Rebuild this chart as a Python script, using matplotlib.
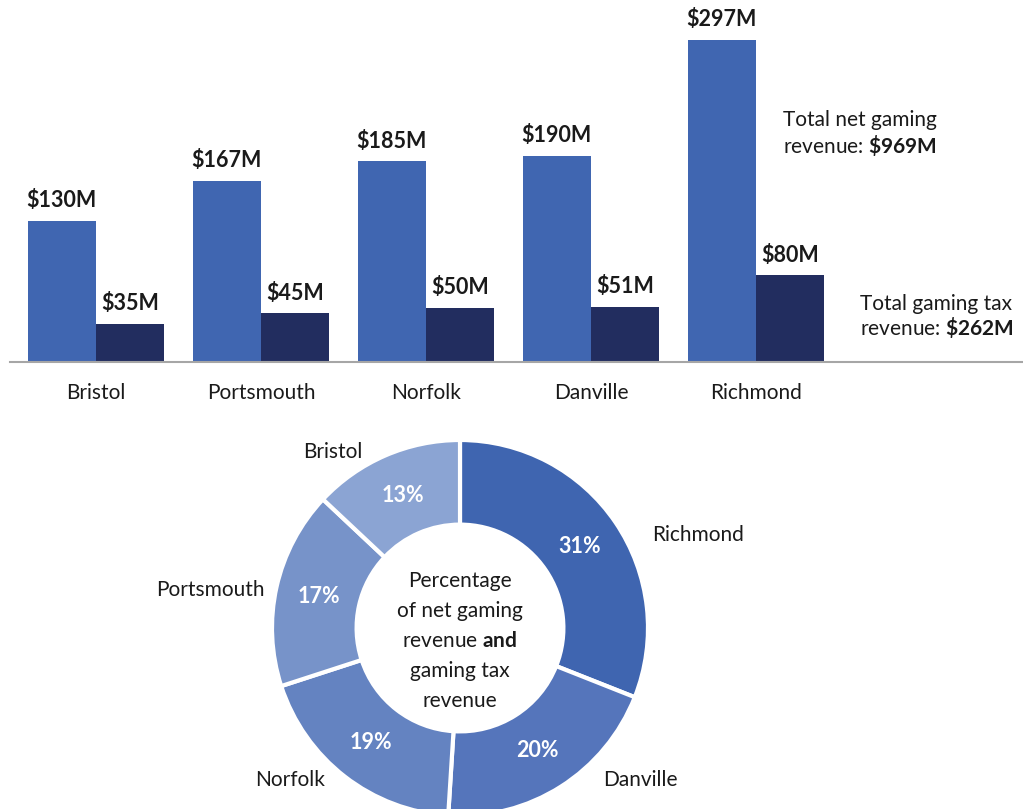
import numpy as np
import matplotlib
matplotlib.use("Agg")
import matplotlib.pyplot as plt

plt.rcParams['font.family'] = ['Lato', 'DejaVu Sans']
plt.rcParams['mathtext.fontset'] = 'custom'
plt.rcParams['mathtext.rm'] = 'Lato'
plt.rcParams['mathtext.bf'] = 'Lato:bold'

# data
cities = ["Bristol", "Portsmouth", "Norfolk", "Danville", "Richmond"]
net_revenue = [130, 167, 185, 190, 297]   # $M
tax_revenue = [35, 45, 50, 51, 80]        # $M
total_net = 969
total_tax = 262

pie_cities = ["Richmond", "Danville", "Norfolk", "Portsmouth", "Bristol"]
pie_share = [31, 20, 19, 17, 13]
pie_colors = ["#3f65b0", "#5575bb", "#6483c1", "#7793c9", "#8ba4d3"]
# excel-ish label placement: angle nudge (deg) and radius per label
label_nudge = [-8.4, 10.9, -3.8, 1.6, 5.6]
label_rad = [1.135, 1.11, 1.08, 1.057, 1.07]

light_blue = "#4066b1"
dark_blue = "#222d5f"
text_col = "#1a1a1a"

fig = plt.figure(figsize=(10.23, 8.09), dpi=100)

# ---- bar chart ----
ax = fig.add_axes([10/1023, 447/809, 1013/1023, 362/809])
x = np.arange(len(cities))
w = 0.415
b1 = ax.bar(x - w/2, net_revenue, w, color=light_blue)
b2 = ax.bar(x + w/2, tax_revenue, w, color=dark_blue)

for bars, vals in [(b1, net_revenue), (b2, tax_revenue)]:
    for b, v in zip(bars, vals):
        ax.annotate("\\$%dM" % v, (b.get_x() + b.get_width()/2, v),
                    xytext=(0, 7), textcoords="offset points",
                    ha="center", va="bottom", fontsize=15.5,
                    fontweight="bold", color=text_col)

ax.set_xlim(-86/165, 927/165)
ax.set_ylim(0, 334)
ax.set_xticks(x)
ax.set_xticklabels(cities, fontsize=15, color=text_col)
ax.tick_params(axis="x", length=0, pad=15)
ax.set_yticks([])
for s in ["top", "right", "left"]:
    ax.spines[s].set_visible(False)
ax.spines["bottom"].set_color("#a6a6a6")
ax.spines["bottom"].set_linewidth(1.5)

fig.text(783/1023, 1 - 134/809,
         "Total net gaming\nrevenue: $\\mathbf{\\$%dM}$" % total_net,
         ha="left", va="center", fontsize=15, color=text_col, linespacing=1.1)
fig.text(860/1023, 1 - 317/809,
         "Total gaming tax\nrevenue: $\\mathbf{\\$%dM}$" % total_tax,
         ha="left", va="center", fontsize=15, color=text_col, linespacing=1.1)

# ---- donut ----
ax2 = fig.add_axes([210/1023, -69/809, 500/1023, 500/809])
wedges, labels, pcts = ax2.pie(
    pie_share, labels=pie_cities, colors=pie_colors, startangle=90,
    counterclock=False, autopct="%.0f%%", pctdistance=0.77,
    labeldistance=1.09,
    wedgeprops=dict(width=0.45, edgecolor="white", linewidth=3),
    textprops=dict(fontsize=15, color=text_col))
for wd, t, dang, r in zip(wedges, labels, label_nudge, label_rad):
    ang = np.deg2rad((wd.theta1 + wd.theta2) / 2 + dang)
    t.set_position((r * np.cos(ang), r * np.sin(ang)))
    t.set_ha("left" if np.cos(ang) > 0 else "right")
    t.set_va("center")
for t in pcts:
    t.set_color("white")
    t.set_fontweight("bold")
    t.set_fontsize(15.5)
ax2.set_xlim(-250/188, 250/188)
ax2.set_ylim(-250/188, 250/188)

ax2.text(0, -0.07,
         "Percentage\nof net gaming\nrevenue $\\mathbf{and}$\ngaming tax\nrevenue",
         ha="center", va="center", fontsize=15, color=text_col, linespacing=1.62)

fig.savefig("out.png", dpi=100)
